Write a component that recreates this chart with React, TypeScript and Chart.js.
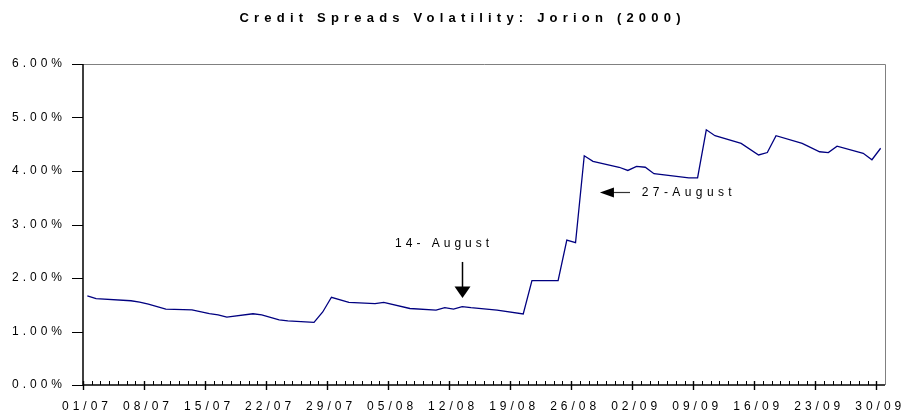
import React, { useEffect, useRef } from 'react';
import { Chart, registerables } from 'chart.js';

Chart.register(...registerables);

const TITLE = 'Credit Spreads Volatility: Jorion (2000)';

const dates = [
  '01/07', '02/07', '06/07', '07/07', '08/07', '10/07', '13/07', '15/07', '16/07', '17/07',
  '20/07', '21/07', '23/07', '24/07', '27/07', '28/07', '29/07', '31/07', '03/08', '04/08',
  '07/08', '10/08', '11/08', '12/08', '13/08', '14/08', '17/08', '20/08', '21/08', '24/08',
  '25/08', '26/08', '27/08', '28/08', '31/08', '01/09', '02/09', '03/09', '04/09', '08/09',
  '09/09', '10/09', '11/09', '14/09', '16/09', '17/09', '18/09', '21/09', '23/09', '24/09',
  '25/09', '28/09', '29/09', '30/09',
];

const spreads = [
  1.665, 1.615, 1.575, 1.55, 1.512, 1.42, 1.405, 1.335, 1.312, 1.27,
  1.332, 1.31, 1.216, 1.197, 1.17, 1.365, 1.64, 1.543, 1.52, 1.545,
  1.43, 1.40, 1.446, 1.42, 1.465, 1.445, 1.40, 1.328, 1.95, 1.95,
  2.71, 2.66, 4.284, 4.18, 4.07, 4.01, 4.085, 4.07, 3.95, 3.87,
  3.87, 4.77, 4.66, 4.515, 4.30, 4.345, 4.66, 4.515, 4.36, 4.345,
  4.465, 4.33, 4.21, 4.425,
];

const xTickLabels = [
  '01/07', '08/07', '15/07', '22/07', '29/07', '05/08', '12/08',
  '19/08', '26/08', '02/09', '09/09', '16/09', '23/09', '30/09',
];

const yTickLabels = ['0.00%', '1.00%', '2.00%', '3.00%', '4.00%', '5.00%', '6.00%'];

const downNote = { text: '14- August', textX: 35.8, textY: 2.64, arrowX: 43.5, fromY: 2.3, toY: 1.628 };
const leftNote = { text: '27-August', textX: 64.1, textY: 3.6, arrowY: 3.6, fromX: 62.75, toX: 59.3 };

const monthStart: Record<string, number> = { '07': 0, '08': 31, '09': 62 };
const dayOf = (s: string) => parseInt(s.slice(0, 2), 10) - 1 + monthStart[s.slice(3, 5)];

const FONT = "'Liberation Sans', Arial, sans-serif";

const framePlugin = {
  id: 'frame',
  beforeDraw(chart: any) {
    chart.ctx.letterSpacing = '4px';
  },
  afterDraw(chart: any) {
    const { ctx, chartArea: a } = chart;
    const x = chart.scales.x;
    const y = chart.scales.y;
    ctx.save();
    ctx.letterSpacing = '0px';

    // top & right border (grey)
    ctx.strokeStyle = '#808080';
    ctx.lineWidth = 1;
    ctx.beginPath();
    ctx.moveTo(a.left, a.top + 0.5);
    ctx.lineTo(a.right + 0.5, a.top + 0.5);
    ctx.lineTo(a.right + 0.5, a.bottom);
    ctx.stroke();

    // axes
    ctx.strokeStyle = '#000';
    ctx.lineWidth = 1.5;
    ctx.beginPath();
    ctx.moveTo(a.left, a.top);
    ctx.lineTo(a.left, a.bottom);
    ctx.lineTo(a.right, a.bottom);
    ctx.stroke();

    // y ticks
    ctx.lineWidth = 1.2;
    ctx.beginPath();
    for (let v = 0; v < yTickLabels.length; v++) {
      const py = Math.round(y.getPixelForValue(v)) + 0.5;
      ctx.moveTo(a.left - 11, py);
      ctx.lineTo(a.left, py);
    }
    ctx.stroke();

    // x ticks
    for (let d = 0; d <= 91; d++) {
      const px = Math.round(x.getPixelForValue(d)) + 0.5;
      const major = d % 7 === 0;
      ctx.lineWidth = major ? 1.4 : 1;
      ctx.beginPath();
      ctx.moveTo(px, a.bottom - 4);
      ctx.lineTo(px, a.bottom + (major ? 5 : 0));
      ctx.stroke();
    }

    // title
    ctx.fillStyle = '#000';
    ctx.font = `bold 13px ${FONT}`;
    ctx.letterSpacing = '5.2px';
    ctx.textAlign = 'left';
    ctx.textBaseline = 'middle';
    const tw = ctx.measureText(TITLE).width - 5.2;
    ctx.fillText(TITLE, 460 - tw / 2, 18.5);

    // annotations
    ctx.font = `12px ${FONT}`;
    ctx.letterSpacing = '4px';
    ctx.fillText(downNote.text, x.getPixelForValue(downNote.textX), y.getPixelForValue(downNote.textY));
    ctx.letterSpacing = '4.4px';
    ctx.fillText(leftNote.text, x.getPixelForValue(leftNote.textX), y.getPixelForValue(leftNote.textY));
    ctx.letterSpacing = '0px';

    // down arrow
    const ax = Math.round(x.getPixelForValue(downNote.arrowX)) + 0.5;
    const ay0 = y.getPixelForValue(downNote.fromY);
    const ay1 = y.getPixelForValue(downNote.toY);
    ctx.lineWidth = 1.5;
    ctx.beginPath();
    ctx.moveTo(ax, ay0);
    ctx.lineTo(ax, ay1 - 10);
    ctx.stroke();
    ctx.beginPath();
    ctx.moveTo(ax - 8, ay1 - 11.5);
    ctx.lineTo(ax + 8, ay1 - 11.5);
    ctx.lineTo(ax, ay1);
    ctx.closePath();
    ctx.fill();

    // left arrow
    const ly = Math.round(y.getPixelForValue(leftNote.arrowY)) + 0.5;
    const lx0 = x.getPixelForValue(leftNote.fromX);
    const lx1 = x.getPixelForValue(leftNote.toX);
    ctx.strokeStyle = '#333';
    ctx.lineWidth = 1.2;
    ctx.beginPath();
    ctx.moveTo(lx0, ly);
    ctx.lineTo(lx1 + 12, ly);
    ctx.stroke();
    ctx.fillStyle = '#000';
    ctx.beginPath();
    ctx.moveTo(lx1 + 14, ly - 5);
    ctx.lineTo(lx1 + 14, ly + 5);
    ctx.lineTo(lx1, ly);
    ctx.closePath();
    ctx.fill();

    ctx.restore();
  },
};

export default function App() {
  const ref = useRef<HTMLCanvasElement | null>(null);

  useEffect(() => {
    document.body.style.margin = '0';
    const canvas = ref.current;
    if (!canvas) return;
    const chart = new Chart(canvas, {
      type: 'line',
      data: {
        datasets: [
          {
            data: dates.map((d, i) => ({ x: dayOf(d) + 0.5, y: spreads[i] })),
            borderColor: '#000080',
            borderWidth: 1.3,
            pointRadius: 0,
            tension: 0,
            fill: false,
          },
        ],
      },
      options: {
        animation: false,
        responsive: false,
        devicePixelRatio: 1,
        layout: { padding: { top: 64, right: 16, left: 0, bottom: 0 } },
        plugins: {
          legend: { display: false },
          title: { display: false },
          tooltip: { enabled: false },
        },
        scales: {
          x: {
            type: 'linear',
            min: 0,
            max: 92,
            afterFit: (s: any) => {
              s.height = 30;
            },
            grid: { display: false, drawTicks: false },
            border: { display: false },
            ticks: {
              stepSize: 1,
              autoSkip: false,
              maxRotation: 0,
              minRotation: 0,
              padding: 14,
              labelOffset: 4,
              color: '#000',
              font: { family: FONT, size: 12 },
              callback: (v: any) => (v % 7 === 0 ? xTickLabels[v / 7] : ''),
            },
          },
          y: {
            min: 0,
            max: 6,
            afterFit: (s: any) => {
              s.width = 83;
            },
            grid: { display: false, drawTicks: false },
            border: { display: false },
            ticks: {
              stepSize: 1,
              padding: 17,
              color: '#000',
              font: { family: FONT, size: 12 },
              callback: (v: any) => yTickLabels[v] ?? '',
            },
          },
        },
      },
      plugins: [framePlugin],
    } as any);
    return () => chart.destroy();
  }, []);

  return (
    <div style={{ width: 901, height: 415 }}>
      <canvas ref={ref} width={901} height={415} style={{ display: 'block' }} />
    </div>
  );
}
